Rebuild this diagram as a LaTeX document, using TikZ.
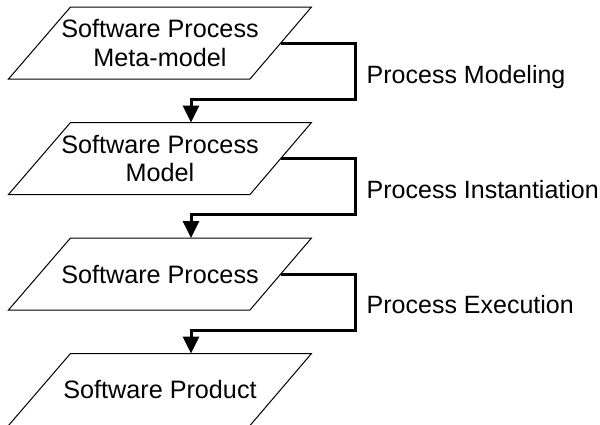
\documentclass[tikz,border=0pt]{standalone}
\usepackage{fontspec}
\setmainfont{Liberation Sans}
\usetikzlibrary{arrows.meta}
\tikzset{
  shapeline/.style={draw=black, line width=1pt, line join=miter},
  flow/.style={draw=black, line width=3pt, line join=miter, -{Triangle[length=17pt,width=16pt]}},
  txt/.style={font=\fontsize{25.2}{28.5}\selectfont, align=center, inner sep=0pt},
  lbl/.style={font=\fontsize{25}{28.5}\selectfont, anchor=base west, inner sep=0pt}
}
\newcommand\mypara[3]{%
  \coordinate (#1-tl) at (70.5,{#2-36});
  \coordinate (#1-tr) at (311.5,{#2-36});
  \coordinate (#1-br) at (250,{#2+36});
  \coordinate (#1-bl) at (8.5,{#2+36});
  \draw[shapeline] (#1-tl) -- (#1-tr) -- (#1-br) -- (#1-bl) -- cycle;
  \coordinate (#1-r) at (280.75,#2);
  \coordinate (#1-t) at (191,{#2-36});
  \node[txt] (#1) at (160,#2) {#3};
}
\begin{document}
\begin{tikzpicture}[x=1pt,y=-1pt]
  \useasboundingbox (0,0) rectangle (600,424);
  \mypara{p1}{43}{Software Process\\Meta-model}
  \mypara{p2}{158.5}{Software Process\\Model}
  \mypara{p3}{274}{Software Process}
  \mypara{p4}{389.5}{Software Product}
  \coordinate (k1) at (355.5,99.5);
  \coordinate (k2) at (355.5,214);
  \coordinate (k3) at (355.5,330.5);
  \draw[flow] (p1-r) -| (k1) -| (p2-t);
  \draw[flow] (p2-r) -| (k2) -| (p3-t);
  \draw[flow] (p3-r) -| (k3) -| (p4-t);
  \node[lbl] (l1) at (366.5,83.3) {Process Modeling};
  \node[lbl] (l2) at (366.5,198.5) {Process Instantiation};
  \node[lbl] (l3) at (366.5,313.8) {Process Execution};
\end{tikzpicture}
\end{document}
